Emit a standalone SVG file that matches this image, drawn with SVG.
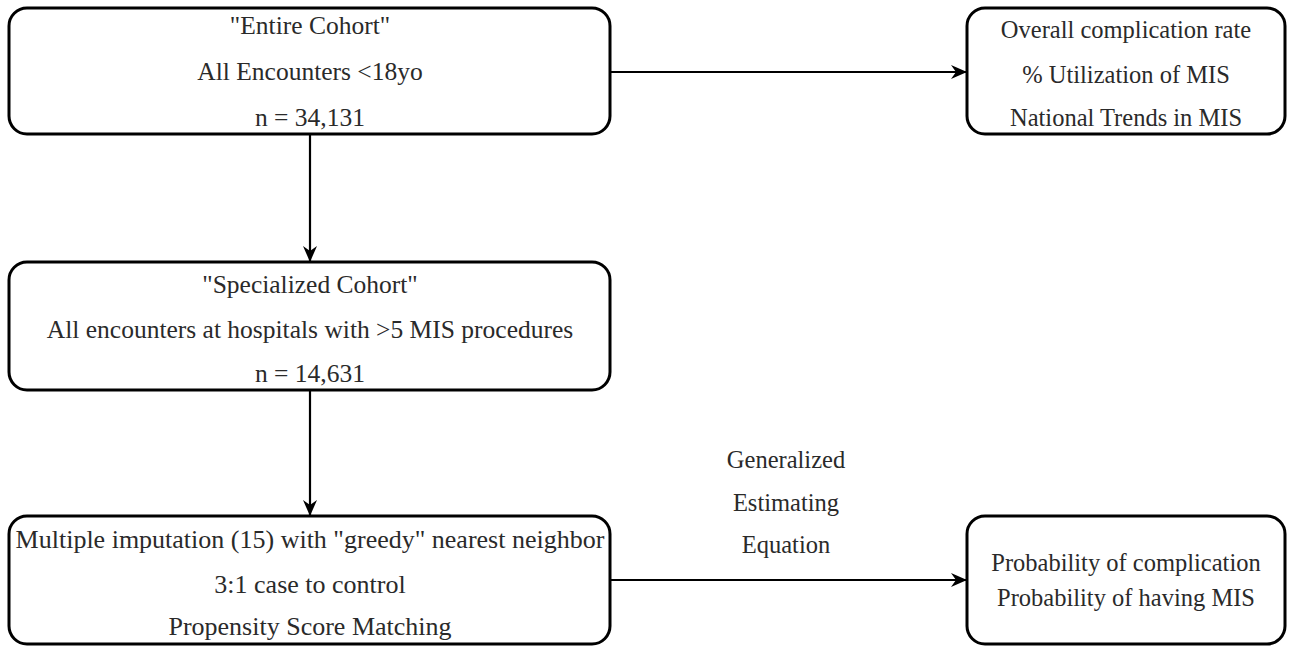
<svg xmlns="http://www.w3.org/2000/svg" width="1295" height="646" viewBox="0 0 1295 646">
<style>
.box{fill:#fff;stroke:#000;stroke-width:3}
.t{font-family:'Liberation Serif',serif;font-size:24.5px;fill:#2a2a2a;text-anchor:middle}
.l{font-size:25.5px}
.m{font-size:26px}
.c{stroke:#000;stroke-width:2.2;fill:none}
</style>
<defs>
<marker id="ah" markerWidth="16" markerHeight="16" refX="15" refY="8" orient="auto" markerUnits="userSpaceOnUse" viewBox="0 0 16 16">
<path d="M0,1 L16,8 L0,15 L5,8 Z" fill="#000"/>
</marker>
</defs>
<rect width="1295" height="646" fill="#fff"/>
<g id="connectors">
<line class="c" x1="610" y1="72" x2="966" y2="72" marker-end="url(#ah)"/>
<line class="c" x1="310" y1="134" x2="310" y2="261" marker-end="url(#ah)"/>
<line class="c" x1="310" y1="390" x2="310" y2="515" marker-end="url(#ah)"/>
<line class="c" x1="610" y1="580" x2="966" y2="580" marker-end="url(#ah)"/>
<g id="gee-label">
<text class="t" x="786" y="468">Generalized</text>
<text class="t" x="786" y="511">Estimating</text>
<text class="t" x="786" y="553">Equation</text>
</g>
</g>
<g id="entire">
<rect class="box" x="9" y="8" width="601" height="126" rx="18"/>
<text class="t l" x="310" y="34">"Entire Cohort"</text>
<text class="t l" x="310" y="80">All Encounters &lt;18yo</text>
<text class="t l" x="310" y="126">n = 34,131</text>
</g>
<g id="overall">
<rect class="box" x="967" y="8" width="318" height="126" rx="18"/>
<text class="t" x="1126" y="38">Overall complication rate</text>
<text class="t" x="1126" y="83">% Utilization of MIS</text>
<text class="t" x="1126" y="126">National Trends in MIS</text>
</g>
<g id="specialized">
<rect class="box" x="9" y="262" width="601" height="128" rx="18"/>
<text class="t l" x="310" y="293">"Specialized Cohort"</text>
<text class="t l" x="310" y="338">All encounters at hospitals with &gt;5 MIS procedures</text>
<text class="t l" x="310" y="382">n = 14,631</text>
</g>
<g id="matching">
<rect class="box" x="9" y="516" width="601" height="128" rx="18"/>
<text class="t m" x="310" y="548">Multiple imputation (15) with "greedy" nearest neighbor</text>
<text class="t m" x="310" y="593">3:1 case to control</text>
<text class="t m" x="310" y="635">Propensity Score Matching</text>
</g>
<g id="probability">
<rect class="box" x="967" y="516" width="318" height="128" rx="18"/>
<text class="t" x="1126" y="571">Probability of complication</text>
<text class="t" x="1126" y="606">Probability of having MIS</text>
</g>
</svg>
